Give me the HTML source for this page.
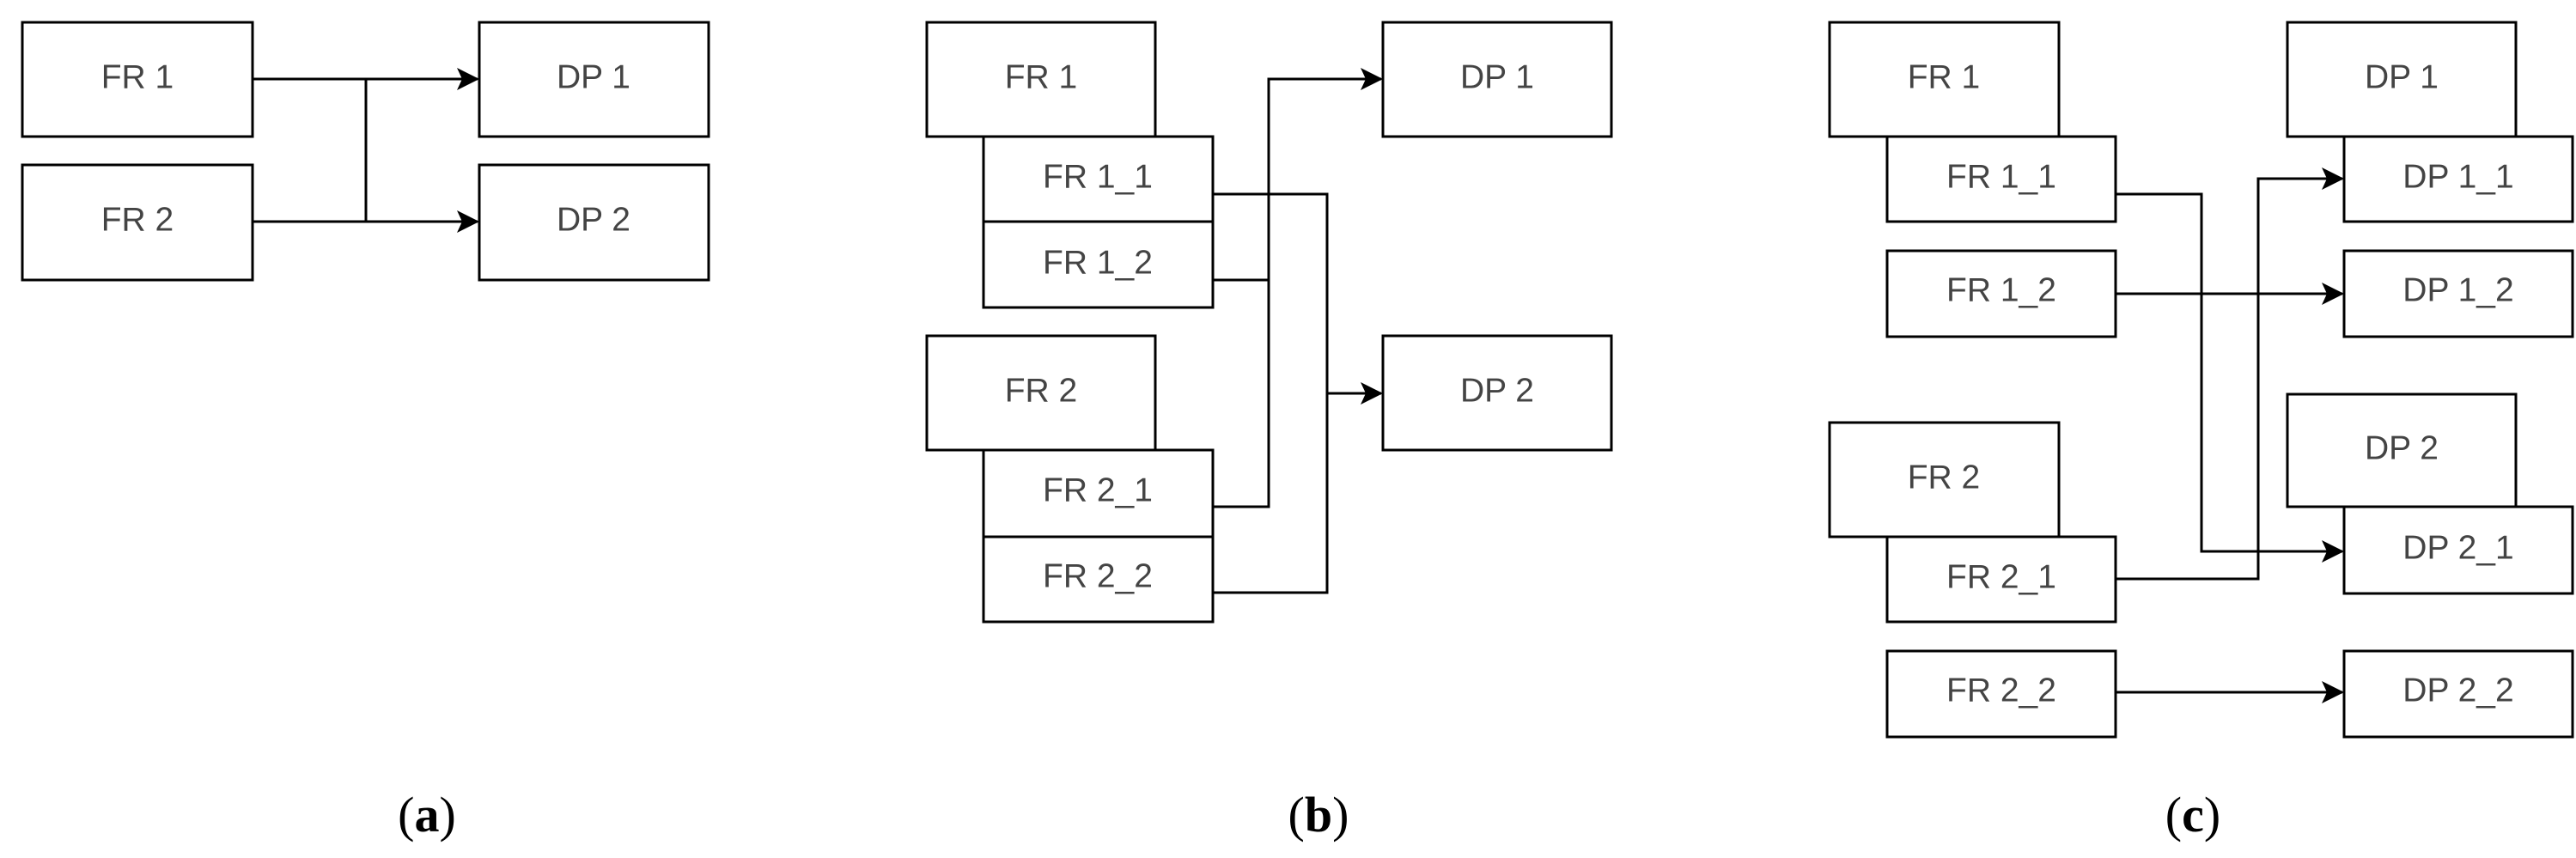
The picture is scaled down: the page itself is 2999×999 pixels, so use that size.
<!DOCTYPE html>
<html><head><meta charset="utf-8"><style>
html,body{margin:0;padding:0;background:#fff;}
svg{display:block}
.b{fill:#fff;stroke:#000;stroke-width:3}
.t{font-family:"Liberation Sans",sans-serif;font-size:39px;fill:#444;text-anchor:middle;dominant-baseline:central}
.l{fill:none;stroke:#000;stroke-width:3}
.c{font-family:"Liberation Serif",serif;font-size:58px;fill:#000;text-anchor:middle}
</style></head><body>
<svg width="2999" height="999" viewBox="0 0 2999 999" xmlns="http://www.w3.org/2000/svg">
<defs>
<marker id="a" markerWidth="26" markerHeight="26" refX="24" refY="13" orient="auto" markerUnits="userSpaceOnUse">
<path d="M0,0 L26,13 L0,26 L6,13 Z" fill="#000"/>
</marker>
</defs>
<!-- (a) -->
<rect class="b" x="26" y="26" width="268" height="133"/><text class="t" x="160" y="90">FR 1</text>
<rect class="b" x="26" y="192" width="268" height="134"/><text class="t" x="160" y="256">FR 2</text>
<rect class="b" x="558" y="26" width="267" height="133"/><text class="t" x="691" y="90">DP 1</text>
<rect class="b" x="558" y="192" width="267" height="134"/><text class="t" x="691" y="256">DP 2</text>
<path class="l" d="M294,92 H556" marker-end="url(#a)"/>
<path class="l" d="M294,258 H556" marker-end="url(#a)"/>
<path class="l" d="M426,92 V258"/>
<text class="c" x="497" y="968">(<tspan font-weight="bold">a</tspan>)</text>
<!-- (b) -->
<rect class="b" x="1079" y="26" width="266" height="133"/><text class="t" x="1212" y="90">FR 1</text>
<rect class="b" x="1145" y="159" width="267" height="99"/><text class="t" x="1278" y="206">FR 1_1</text>
<rect class="b" x="1145" y="258" width="267" height="100"/><text class="t" x="1278" y="306">FR 1_2</text>
<rect class="b" x="1079" y="391" width="266" height="133"/><text class="t" x="1212" y="455">FR 2</text>
<rect class="b" x="1145" y="524" width="267" height="101"/><text class="t" x="1278" y="571">FR 2_1</text>
<rect class="b" x="1145" y="625" width="267" height="99"/><text class="t" x="1278" y="671">FR 2_2</text>
<rect class="b" x="1610" y="26" width="266" height="133"/><text class="t" x="1743" y="90">DP 1</text>
<rect class="b" x="1610" y="391" width="266" height="133"/><text class="t" x="1743" y="455">DP 2</text>
<path class="l" d="M1412,226 H1545 V690 H1412"/>
<path class="l" d="M1545,458 H1608" marker-end="url(#a)"/>
<path class="l" d="M1412,326 H1477"/>
<path class="l" d="M1412,590 H1477 V92 H1608" marker-end="url(#a)"/>
<text class="c" x="1535" y="968">(<tspan font-weight="bold">b</tspan>)</text>
<!-- (c) -->
<rect class="b" x="2130" y="26" width="267" height="133"/><text class="t" x="2263" y="90">FR 1</text>
<rect class="b" x="2197" y="159" width="266" height="99"/><text class="t" x="2330" y="206">FR 1_1</text>
<rect class="b" x="2197" y="292" width="266" height="100"/><text class="t" x="2330" y="338">FR 1_2</text>
<rect class="b" x="2130" y="492" width="267" height="133"/><text class="t" x="2263" y="556">FR 2</text>
<rect class="b" x="2197" y="625" width="266" height="99"/><text class="t" x="2330" y="672">FR 2_1</text>
<rect class="b" x="2197" y="758" width="266" height="100"/><text class="t" x="2330" y="804">FR 2_2</text>
<rect class="b" x="2663" y="26" width="266" height="133"/><text class="t" x="2796" y="90">DP 1</text>
<rect class="b" x="2729" y="159" width="266" height="99"/><text class="t" x="2862" y="206">DP 1_1</text>
<rect class="b" x="2729" y="292" width="266" height="100"/><text class="t" x="2862" y="338">DP 1_2</text>
<rect class="b" x="2663" y="459" width="266" height="131"/><text class="t" x="2796" y="522">DP 2</text>
<rect class="b" x="2729" y="590" width="266" height="101"/><text class="t" x="2862" y="638">DP 2_1</text>
<rect class="b" x="2729" y="758" width="266" height="100"/><text class="t" x="2862" y="804">DP 2_2</text>
<path class="l" d="M2463,226 H2563 V642 H2727" marker-end="url(#a)"/>
<path class="l" d="M2463,674 H2629 V208 H2727" marker-end="url(#a)"/>
<path class="l" d="M2463,342 H2727" marker-end="url(#a)"/>
<path class="l" d="M2463,806 H2727" marker-end="url(#a)"/>
<text class="c" x="2553" y="968">(<tspan font-weight="bold">c</tspan>)</text>
</svg>
</body></html>
